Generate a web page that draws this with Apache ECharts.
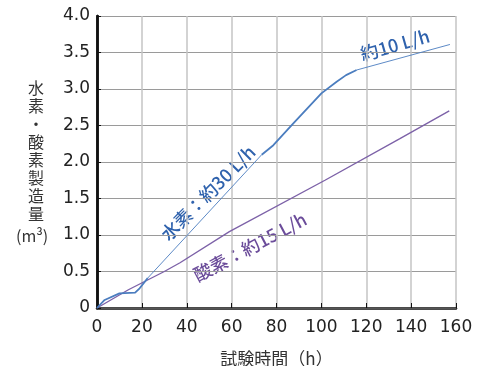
<!doctype html>
<html>
	<head>
		<meta charset="UTF-8">
		<title>水素・酸素製造量</title>
		<script src="https://cdn.jsdelivr.net/npm/echarts@6/dist/echarts.min.js"></script>
		<style>
			html, body { margin: 0; padding: 0; background: #fff; }
			#chart { width: 481px; height: 366px; }
		</style>
	</head>
	<body>
		<div id="chart"></div>
		<script type="text/javascript">
			// 水素 実測（太線）と 目安（細線）
			var h2Start = [[0, 0], [3.4, 0.11], [10, 0.2], [17, 0.21], [19, 0.27], [22.6, 0.41]];
			var h2Rate30 = [[22.6, 0.41], [73.4, 2.10]];
			var h2Mid = [[73.4, 2.10], [78.6, 2.23], [87.5, 2.53], [100, 2.94], [106.8, 3.10], [111, 3.19], [115.7, 3.26]];
			var h2Rate10 = [[115.7, 3.26], [157.3, 3.61]];
			// 酸素
			var o2Data = [[0, 0], [14, 0.25], [30, 0.5], [37, 0.62], [59, 1.045], [101.6, 1.75], [135, 2.32], [157, 2.70]];

			var blue = '#4b7dbf';
			var purple = '#7d62a8';
			var tickFont = 'DejaVu Sans';
			var cjkFont = 'Noto Sans CJK JP';

			function lineSeries(data, color, width) {
				return {
					type: 'line',
					data: data,
					symbol: 'none',
					silent: true,
					lineStyle: { color: color, width: width }
				};
			}

			var option = {
				animation: false,
				grid: { left: 97, right: 25, top: 16, bottom: 58, outerBoundsMode: 'none' },
				xAxis: [{
					type: 'value',
					min: 0,
					max: 160,
					interval: 20,
					name: '試験時間（h）',
					nameLocation: 'middle',
					nameGap: 42,
					nameTextStyle: { fontFamily: cjkFont, fontSize: 17, color: '#333' },
					axisLine: { lineStyle: { color: '#111', width: 2.5 } },
					axisTick: { inside: true, length: 5, lineStyle: { color: '#111', width: 1 } },
					axisLabel: { fontFamily: tickFont, fontSize: 17, color: '#222', margin: 11 },
					splitLine: { lineStyle: { color: '#c4c4c4', width: 1.5 } }
				}, {
					type: 'value',
					position: 'top',
					min: 0,
					max: 160,
					axisLine: { show: true, lineStyle: { color: '#555', width: 1 } },
					axisTick: { show: false },
					axisLabel: { show: false },
					splitLine: { show: false }
				}],
				yAxis: [{
					type: 'value',
					min: 0,
					max: 4,
					interval: 0.5,
					axisLine: { lineStyle: { color: '#111', width: 2.5 } },
					axisTick: { inside: true, length: 4, lineStyle: { color: '#111', width: 1 } },
					axisLabel: {
						fontFamily: tickFont,
						fontSize: 17,
						color: '#222',
						margin: 7,
						formatter: function(v) {
							return v === 0 ? '0' : v.toFixed(1);
						}
					},
					splitLine: { lineStyle: { color: '#9a9a9a', width: 1 } }
				}, {
					type: 'value',
					position: 'right',
					min: 0,
					max: 4,
					axisLine: { show: true, lineStyle: { color: '#111', width: 2.5 } },
					axisTick: { show: false },
					axisLabel: { show: false },
					splitLine: { show: false }
				}],
				series: [
					lineSeries(o2Data, purple, 1.4),
					lineSeries(h2Start, blue, 1.8),
					lineSeries(h2Rate30, blue, 0.9),
					lineSeries(h2Mid, blue, 1.8),
					lineSeries(h2Rate10, blue, 0.9)
				],
				graphic: [{
					type: 'text',
					left: 28,
					top: 79,
					style: {
						text: '水\n素\n・\n酸\n素\n製\n造\n量',
						fontFamily: cjkFont,
						fontSize: 16,
						lineHeight: 18,
						fill: '#333',
						textAlign: 'left'
					}
				}, {
					type: 'text',
					left: 16,
					top: 228,
					style: {
						text: '(m³)',
						fontFamily: cjkFont,
						fontSize: 16,
						fill: '#333'
					}
				}, {
					type: 'text',
					x: 208,
					y: 193,
					rotation: Math.PI * 45 / 180,
					style: {
						text: '水素：約30 L/h',
						fontFamily: cjkFont,
						fontSize: 18,
						fontWeight: 500,
						fill: '#2f62ad',
						align: 'center',
						verticalAlign: 'middle'
					}
				}, {
					type: 'text',
					x: 395,
					y: 45,
					rotation: Math.PI * 16 / 180,
					style: {
						text: '約10 L/h',
						fontFamily: cjkFont,
						fontSize: 18,
						fontWeight: 500,
						fill: '#2f62ad',
						align: 'center',
						verticalAlign: 'middle'
					}
				}, {
					type: 'text',
					x: 250,
					y: 247,
					rotation: Math.PI * 28 / 180,
					style: {
						text: '酸素：約15 L/h',
						fontFamily: cjkFont,
						fontSize: 18,
						fontWeight: 500,
						fill: '#6b4c9a',
						align: 'center',
						verticalAlign: 'middle'
					}
				}]
			};

			var chart = echarts.init(document.getElementById('chart'));
			chart.setOption(option);
		</script>
	</body>
</html>
